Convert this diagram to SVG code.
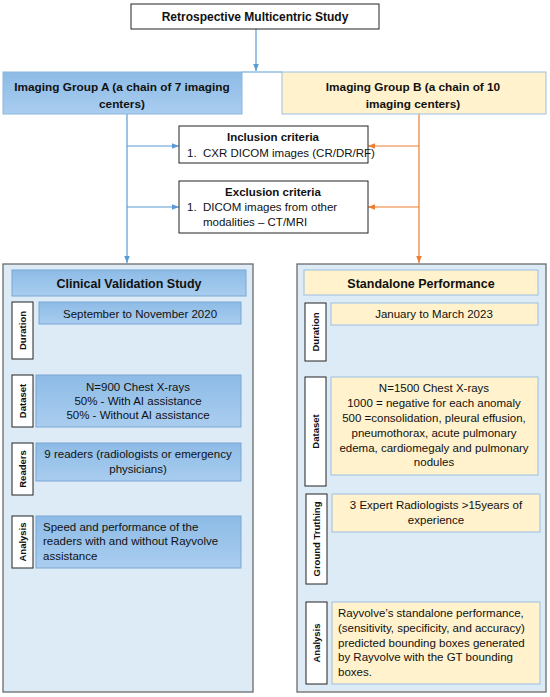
<svg xmlns="http://www.w3.org/2000/svg" width="550" height="697" viewBox="0 0 550 697">
<style>
text{font-family:"Liberation Sans",Arial,sans-serif;fill:#111;}
.b{font-weight:bold;}
.t{font-size:11.5px;}
.c{text-anchor:middle;}
.lbl{font-size:9.5px;font-weight:bold;text-anchor:middle;}
.white{fill:#fff;stroke:#222;stroke-width:1;}
.panel{fill:#ddebf7;stroke:#6b6b6b;stroke-width:1.3;}
.bl{fill:url(#gb);stroke:#7aa6d3;stroke-width:1;}
.yl{fill:#fff2cc;stroke:#9cc0e2;stroke-width:1;}
.cb{stroke:#5b9bd5;stroke-width:1.2;fill:none;}
.co{stroke:#ed7d31;stroke-width:1.2;fill:none;}
.g{font-size:11.8px;font-weight:bold;text-anchor:middle;}
</style>
<defs>
<linearGradient id="gb" x1="0" y1="0" x2="0" y2="1">
<stop offset="0" stop-color="#8dbbe6"/>
<stop offset="1" stop-color="#a9cdef"/>
</linearGradient>
<marker id="ab" viewBox="0 0 10 10" refX="10" refY="5" markerWidth="6" markerHeight="6" orient="auto"><path d="M0,1 L10,5 L0,9 z" fill="#5b9bd5"/></marker>
<marker id="ao" viewBox="0 0 10 10" refX="10" refY="5" markerWidth="6" markerHeight="6" orient="auto"><path d="M0,1 L10,5 L0,9 z" fill="#ed7d31"/></marker>
</defs>

<g id="connectors">
<line class="cb" x1="256" y1="29" x2="256" y2="71" marker-end="url(#ab)"/>
<line class="cb" x1="242" y1="72" x2="282" y2="72"/>
<line class="cb" x1="127" y1="114" x2="127" y2="263" marker-end="url(#ab)"/>
<line class="cb" x1="127" y1="146" x2="179" y2="146" marker-end="url(#ab)"/>
<line class="cb" x1="127" y1="207" x2="179" y2="207" marker-end="url(#ab)"/>
<line class="co" x1="419" y1="114" x2="419" y2="263" marker-end="url(#ao)"/>
<line class="co" x1="419" y1="146" x2="368" y2="146" marker-end="url(#ao)"/>
<line class="co" x1="419" y1="207" x2="368" y2="207" marker-end="url(#ao)"/>
</g>

<g id="top">
<rect class="white" x="131" y="4" width="248" height="25"/>
<text class="b c" x="255" y="20.5" font-size="12">Retrospective Multicentric Study</text>
</g>

<g id="groupA">
<rect x="3" y="72" width="239" height="42" fill="url(#gb)" stroke="#8bb5dc"/>
<text class="g" x="122" y="91">Imaging Group A (a chain of 7 imaging</text>
<text class="g" x="122" y="108">centers)</text>
</g>

<g id="groupB">
<rect x="282" y="72" width="264" height="42" fill="#fff2cc" stroke="#9cc0e2"/>
<text class="g" x="413" y="91">Imaging Group B (a chain of 10</text>
<text class="g" x="413" y="108">imaging centers)</text>
</g>

<g id="inclusion">
<rect class="white" x="179" y="126" width="189" height="37"/>
<text class="b c t" x="273" y="141">Inclusion criteria</text>
<text class="t" x="187" y="157">1.</text>
<text class="t" x="203" y="157">CXR DICOM images (CR/DR/RF)</text>
</g>

<g id="exclusion">
<rect class="white" x="179" y="181" width="189" height="52"/>
<text class="b c t" x="273" y="196">Exclusion criteria</text>
<text class="t" x="187" y="211">1.</text>
<text class="t" x="203" y="211">DICOM images from other</text>
<text class="t" x="203" y="226">modalities – CT/MRI</text>
</g>

<g id="clinical">
<rect class="panel" x="3" y="264" width="250" height="428"/>
<rect class="bl" x="12" y="270" width="234" height="26"/>
<text class="b c" x="129" y="287.5" font-size="12.5">Clinical Validation Study</text>
</g>

<g id="a-duration">
<rect class="white" x="12" y="302" width="21" height="57"/>
<text class="lbl" transform="translate(26,330.5) rotate(-90)">Duration</text>
<rect class="bl" x="39" y="302" width="202" height="22"/>
<text class="t c" x="140" y="318">September to November 2020</text>
</g>

<g id="a-dataset">
<rect class="white" x="12" y="375" width="21" height="52"/>
<text class="lbl" transform="translate(26,401) rotate(-90)">Dataset</text>
<rect class="bl" x="36" y="375" width="205" height="52"/>
<text class="t c" x="138" y="391">N=900 Chest X-rays</text>
<text class="t c" x="138" y="405">50% - With AI assistance</text>
<text class="t c" x="138" y="419">50% - Without AI assistance</text>
</g>

<g id="a-readers">
<rect class="white" x="12" y="443" width="21" height="52"/>
<text class="lbl" transform="translate(26,469) rotate(-90)">Readers</text>
<rect class="bl" x="36" y="443" width="205" height="38"/>
<text class="t c" x="138" y="458">9 readers (radiologists or emergency</text>
<text class="t c" x="138" y="473">physicians)</text>
</g>

<g id="a-analysis">
<rect class="white" x="12" y="516" width="21" height="52"/>
<text class="lbl" transform="translate(26,542) rotate(-90)">Analysis</text>
<rect class="bl" x="36" y="516" width="205" height="52"/>
<text class="t" x="43" y="531">Speed and performance of the</text>
<text class="t" x="43" y="545">readers with and without Rayvolve</text>
<text class="t" x="43" y="560">assistance</text>
</g>

<g id="standalone">
<rect class="panel" x="297" y="264" width="249" height="428"/>
<rect class="yl" x="304" y="270" width="234" height="25"/>
<text class="b c" x="421" y="287.5" font-size="12.5">Standalone Performance</text>
</g>

<g id="b-duration">
<rect class="white" x="305" y="303" width="21" height="58"/>
<text class="lbl" transform="translate(319,332) rotate(-90)">Duration</text>
<rect class="yl" x="331" y="303" width="207" height="22"/>
<text class="t c" x="434" y="318">January to March 2023</text>
</g>

<g id="b-dataset">
<rect class="white" x="305" y="377" width="21" height="109"/>
<text class="lbl" transform="translate(319,431.5) rotate(-90)">Dataset</text>
<rect class="yl" x="331" y="377" width="207" height="98"/>
<text class="t c" x="434" y="392">N=1500 Chest X-rays</text>
<text class="t c" x="434" y="407">1000 = negative for each anomaly</text>
<text class="t c" x="434" y="422">500 =consolidation, pleural effusion,</text>
<text class="t c" x="434" y="437">pneumothorax, acute pulmonary</text>
<text class="t c" x="434" y="452">edema, cardiomegaly and pulmonary</text>
<text class="t c" x="434" y="466">nodules</text>
</g>

<g id="b-ground">
<rect class="white" x="306" y="494" width="21" height="90"/>
<text class="lbl" transform="translate(320,539) rotate(-90)" font-size="9">Ground Truthing</text>
<rect class="yl" x="332" y="494" width="208" height="38"/>
<text class="t c" x="436" y="509">3 Expert Radiologists &gt;15years of</text>
<text class="t c" x="436" y="524">experience</text>
</g>

<g id="b-analysis">
<rect class="white" x="306" y="602" width="21" height="82"/>
<text class="lbl" transform="translate(320,643) rotate(-90)">Analysis</text>
<rect class="yl" x="332" y="602" width="208" height="82"/>
<text class="t" x="338" y="617">Rayvolve’s standalone performance,</text>
<text class="t" x="338" y="632">(sensitivity, specificity, and accuracy)</text>
<text class="t" x="338" y="647">predicted bounding boxes generated</text>
<text class="t" x="338" y="661">by Rayvolve with the GT bounding</text>
<text class="t" x="338" y="676">boxes.</text>
</g>
</svg>
